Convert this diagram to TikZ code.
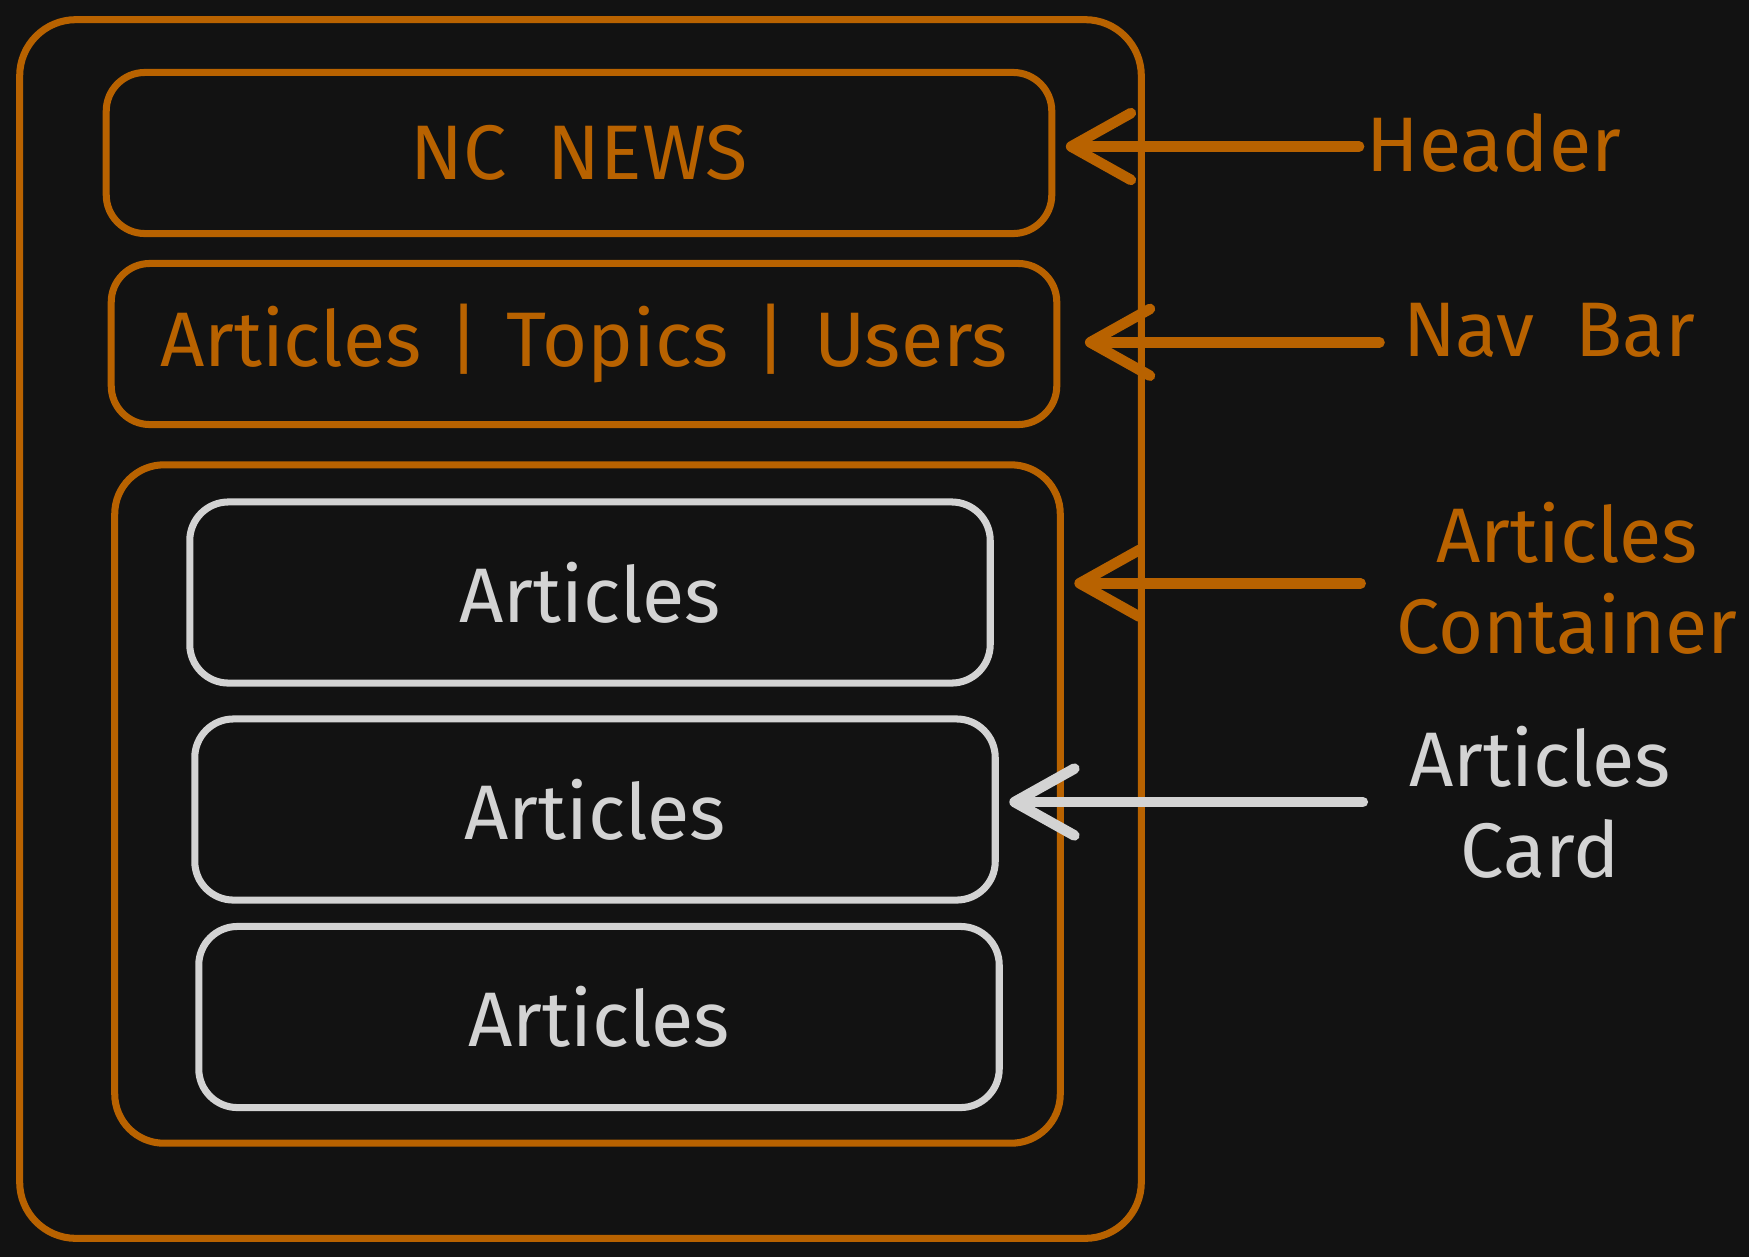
\documentclass[tikz,border=0pt]{standalone}
\usepackage{fontspec}
\setmainfont{Fira Sans}
\usepackage{tikz}
\usetikzlibrary{arrows.meta}
\definecolor{bgdark}{HTML}{121212}
\definecolor{wireorange}{HTML}{B86200}
\definecolor{wirewhite}{HTML}{D3D3D3}

\begin{document}
\begin{tikzpicture}[x=0.01cm, y=-0.01cm,
        outerbox/.style={draw=wireorange, line width=2pt, rounded corners=16pt, minimum width=11.21cm, minimum height=12.18cm, inner sep=0pt},
        section/.style={draw=wireorange, line width=2pt, rounded corners=11pt, text=wireorange, font=\fontsize{22}{26}\selectfont, minimum width=9.45cm, minimum height=1.61cm, inner sep=0pt},
        card/.style={draw=wirewhite, line width=2pt, rounded corners=11pt, text=wirewhite, font=\fontsize{22}{26}\selectfont, minimum width=8cm, minimum height=1.81cm, inner sep=0pt},
        pointer/.style={line width=3pt, line cap=round, shorten >=3pt, -{Straight Barb[length=17pt,width=19pt,round]}},
        callout/.style={align=center, font=\fontsize{22}{26}\selectfont, inner sep=2pt}
    ]
        \fill[bgdark] (0,0) rectangle (1749,1257);
        \useasboundingbox (0,0) rectangle (1749,1257);

        \node[outerbox] (page) at (580.5,629) {};

        \node[section] (header) at (579,153) {NC\ \ NEWS};
        \node[section] (navbar) at (584,344) {Articles\hspace{0.35em}|\hspace{0.35em}Topics\hspace{0.35em}|\hspace{0.35em}Users};
        \node[section, minimum height=6.78cm, rounded corners=14pt] (container) at (587.5,804) {};

        \foreach \i/\x/\y in {1/590/592.5,2/595/809.5,3/599/1017}
            \node[card] (card\i) at (\x,\y) {Articles};

        \node[callout, text=wireorange] (hdrlabel) at (1494,143) {Header};
        \node[callout, text=wireorange] (navlabel) at (1549,330) {Nav\ \ Bar};
        \node[callout, text=wireorange] (cntlabel) at (1567,578) {Articles\\Container};
        \node[callout, text=wirewhite] (cardlabel) at (1540,802) {Articles\\Card};

        \draw[pointer, draw=wireorange] ([yshift=-1pt]hdrlabel.west) -- ([yshift=-1pt]hdrlabel.west -| header.east);
        \draw[pointer, draw=wireorange, shorten <=4.5pt, shorten >=7pt] ([yshift=-3.5pt]navlabel.west) -- ([yshift=-3.5pt]navlabel.west -| navbar.east);
        \draw[pointer, draw=wireorange, shorten <=8pt] ([yshift=-1.5pt]cntlabel.west) -- ([yshift=-1.5pt]cntlabel.west -| container.east);
        \draw[pointer, draw=wirewhite, shorten <=11pt] (cardlabel.west) -- (cardlabel.west -| card2.east);
    \end{tikzpicture}
\end{document}
